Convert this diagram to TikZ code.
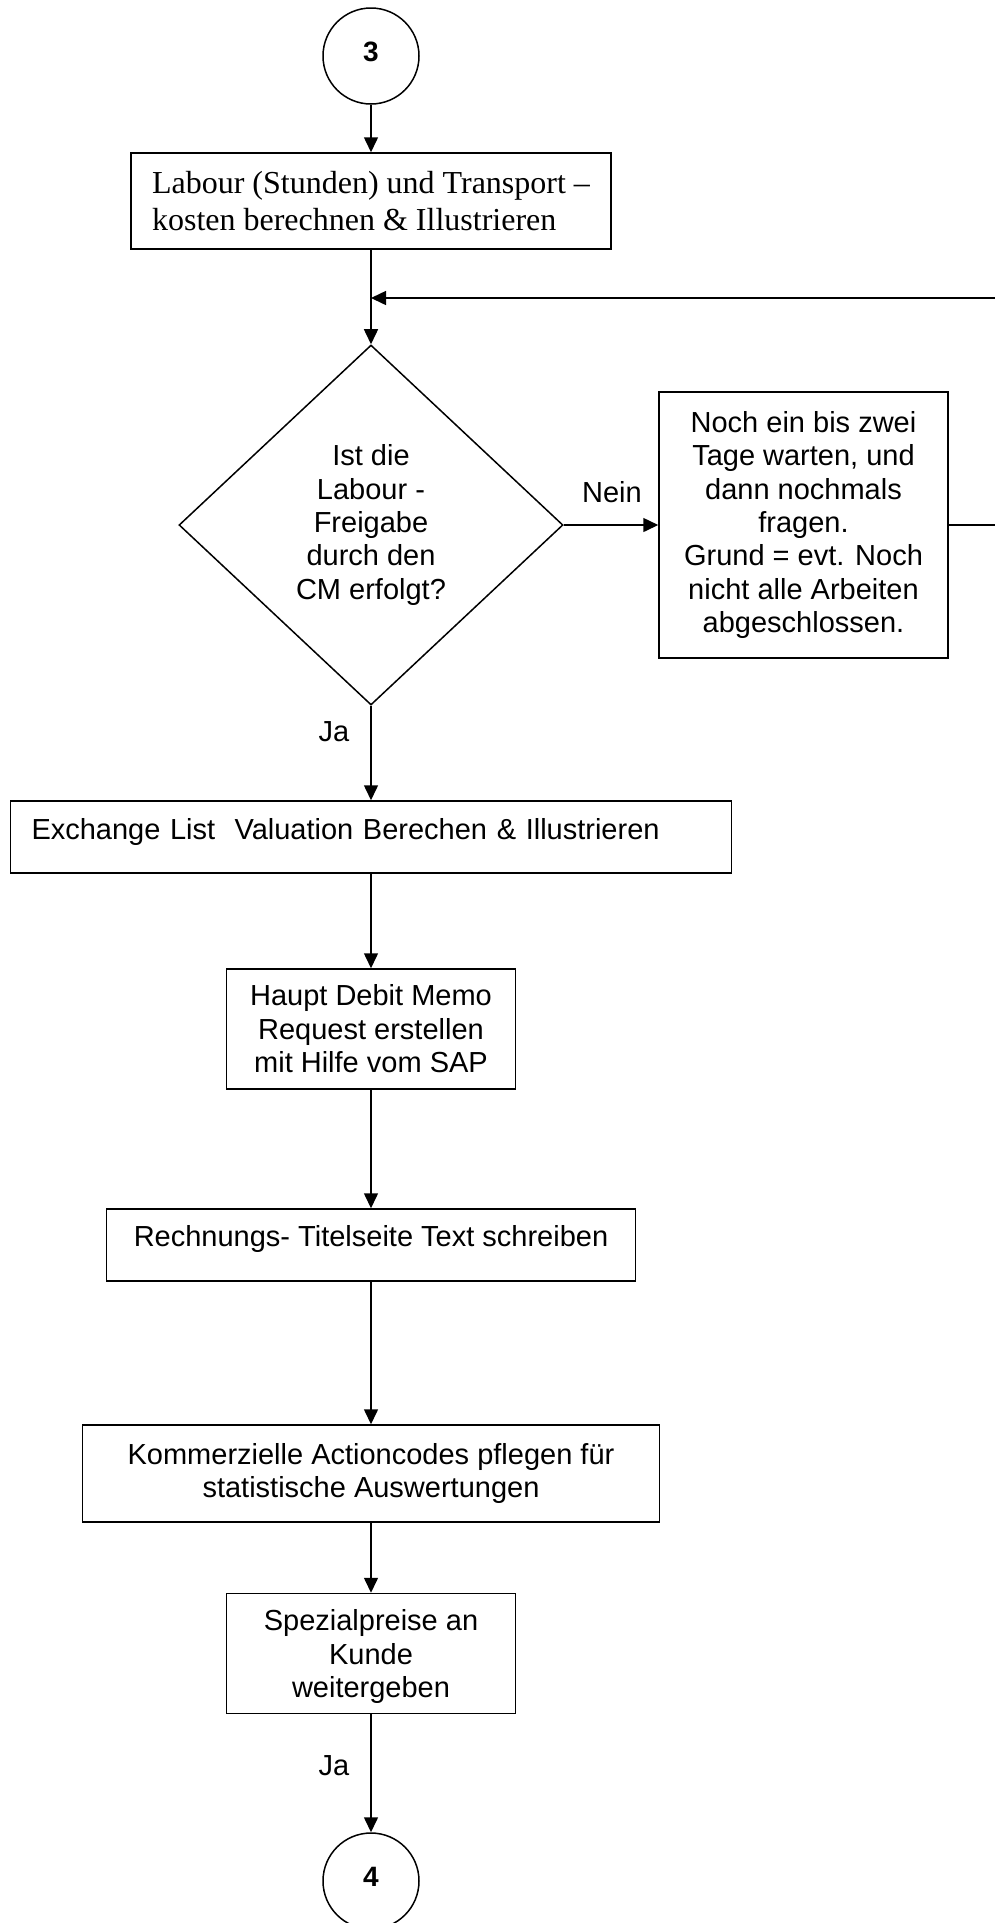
\documentclass[tikz,border=0pt]{standalone}
\usepackage{fontspec}
\setmainfont{Liberation Sans}
\newfontfamily\timesfont{Liberation Serif}
\usepackage{tikz}
\usetikzlibrary{arrows.meta,shapes.geometric}
\tikzset{tri/.tip={Triangle[length=15pt,width=14pt]}}

\begin{document}
\begin{tikzpicture}[x=1pt,y=-1pt,line width=1.5pt,
    every node/.style={font=\fontsize{29}{33.4}\selectfont},
    box/.style={draw,rectangle,inner sep=0pt,align=center},
    conn/.style={draw,circle,inner sep=0pt,minimum size=96pt,text depth=8pt,font=\fontsize{28}{33}\selectfont\bfseries}]
\useasboundingbox (0,0) rectangle (994,1923);
\node[conn] (c3) at (371,56) {3};
\node[box,minimum width=480pt,minimum height=96pt,align=left,
    font=\timesfont\fontsize{32}{37}\selectfont] (labour) at (371,201)
    {Labour (Stunden) und Transport –\\kosten berechnen \& Illustrieren};
\node[draw,diamond,inner sep=0pt,minimum width=384pt,minimum height=360pt,align=center] (frage) at (371,525)
    {Ist die\\Labour -\\Freigabe\\durch den\\CM erfolgt?};
\node[box,minimum width=289pt,minimum height=266pt] (warten) at (803.5,525)
    {Noch ein bis zwei\\Tage warten, und\\dann nochmals\\fragen.\\Grund = evt. Noch\\nicht alle Arbeiten\\abgeschlossen.};
\node (nein) at (612,492) {Nein};
\node (ja1) at (334,732) {Ja};
\node[box,minimum width=721pt,minimum height=72pt,text width=679pt,align=left,
    text height=21pt,text depth=17pt] (exch) at (371,837)
    {Exchange List \ Valuation Berechen \& Illustrieren};
\node[box,minimum width=289pt,minimum height=120pt] (haupt) at (371,1029)
    {Haupt Debit Memo\\Request erstellen\\mit Hilfe vom SAP};
\node[box,minimum width=529pt,minimum height=72pt,text height=21pt,text depth=19pt] (rech) at (371,1245)
    {Rechnungs- Titelseite Text schreiben};
\node[box,minimum width=577pt,minimum height=97pt] (komm) at (371,1473.5)
    {Kommerzielle Actioncodes pflegen für\\statistische Auswertungen};
\node[box,minimum width=289pt,minimum height=120pt] (spez) at (371,1653.5)
    {Spezialpreise an\\Kunde\\\smash{weitergeben}};
\node (ja2) at (334,1766) {Ja};
\node[conn] (c4) at (371,1881) {4};
\coordinate (merge) at (371,298);
\coordinate (rand) at (1000,298);
\path[-tri] (c3) edge (labour);
\path[-tri] (labour) edge (frage);
\path[-tri] (frage) edge (warten);
\path[-tri] (frage) edge (exch);
\path[-tri] (exch) edge (haupt);
\path[-tri] (haupt) edge (rech);
\path[-tri] (rech) edge (komm);
\path[-tri] (komm) edge (spez);
\path[-tri] (spez) edge (c4);
\draw[-tri] (warten.east) -| (rand) -- (merge);
\end{tikzpicture}
\end{document}
